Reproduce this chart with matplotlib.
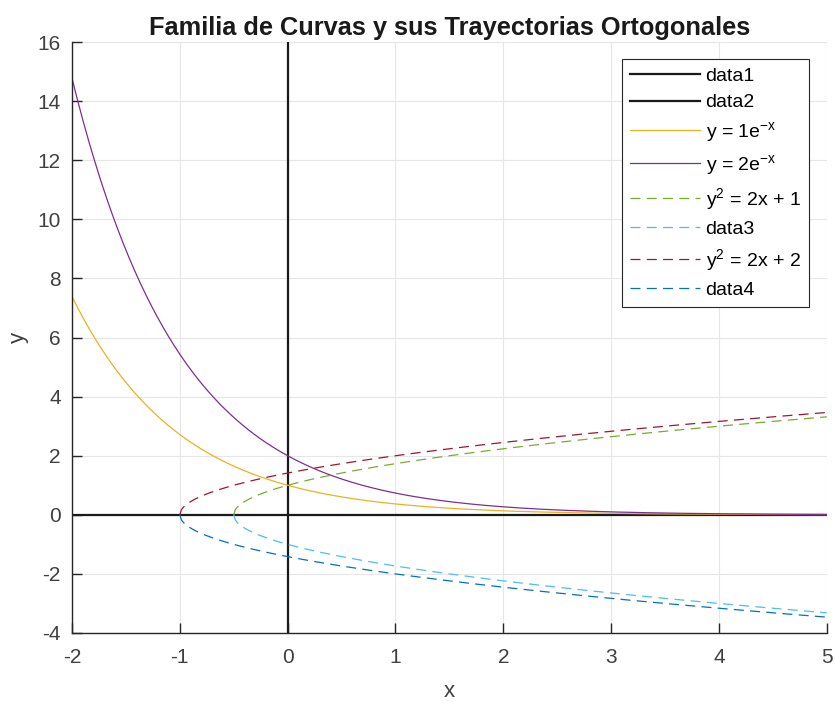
import numpy as np
import matplotlib
matplotlib.use("Agg")
import matplotlib.pyplot as plt

plt.rcParams['font.family'] = ['Liberation Sans', 'DejaVu Sans']
plt.rcParams['axes.unicode_minus'] = False
plt.rcParams['mathtext.default'] = 'regular'

# Data: family constants and domain
x_range = [-2, 5]
y_range = [-4, 16]
exp_consts = [1, 2]          # y = C e^{-x}
parab_consts = [1, 2]        # y^2 = 2x + K
exp_colors = ['#EDB120', '#7E2F8E']
parab_upper_colors = ['#77AC30', '#A2142F']
parab_lower_colors = ['#4DBEEE', '#0072BD']
xticks = [-2, -1, 0, 1, 2, 3, 4, 5]
yticks = [-4, -2, 0, 2, 4, 6, 8, 10, 12, 14, 16]

fig = plt.figure(figsize=(8.35, 7.02), dpi=100)
ax = fig.add_axes([0.0862, 0.0983, 0.9040, 0.8417])

axc = '#262626'
ax.plot(x_range, [0, 0], color='#1a1a1a', lw=1.6, label='data1')
ax.plot([0, 0], y_range, color='#1a1a1a', lw=1.6, label='data2')

x = np.linspace(x_range[0], x_range[1], 400)
for C, c in zip(exp_consts, exp_colors):
    ax.plot(x, C * np.exp(-x), color=c, lw=0.9, label=f'y = {C}e$^{{-x}}$')

dash = (0, (8, 5))
for K, cu, cl in zip(parab_consts, parab_upper_colors, parab_lower_colors):
    xp = np.linspace(-K / 2, x_range[1], 400)
    yp = np.sqrt(np.clip(2 * xp + K, 0, None))
    ax.plot(xp, yp, color=cu, lw=0.9, ls=dash, label=f'y$^{{2}}$ = 2x + {K}')
    ax.plot(xp, -yp, color=cl, lw=0.9, ls=dash, label=f'data{K + 2}')

ax.set_xlim(*x_range)
ax.set_ylim(*y_range)
ax.set_xticks(xticks)
ax.set_yticks(yticks)
ax.grid(True, color='#e6e6e6', lw=0.8)
ax.set_axisbelow(True)
for s in ['top', 'right']:
    ax.spines[s].set_visible(False)
for s in ['bottom', 'left']:
    ax.spines[s].set_color(axc)
    ax.spines[s].set_linewidth(1.0)
ax.tick_params(direction='in', length=7, width=1.0, colors=axc, labelsize=15)
ax.tick_params(axis='x', pad=11)
ax.tick_params(axis='y', pad=8)
for lab in ax.get_xticklabels() + ax.get_yticklabels():
    lab.set_color('#404040')

ax.set_xlabel('x', fontsize=16, color='#404040', labelpad=10)
ax.set_ylabel('y', fontsize=16, color='#404040', labelpad=6)
ax.set_title('Familia de Curvas y sus Trayectorias Ortogonales', fontsize=18.3,
             fontweight='bold', color='#1a1a1a', pad=5)

leg = ax.legend(loc='upper right', bbox_to_anchor=(0.976, 0.971), borderaxespad=0,
                fontsize=14, frameon=True, fancybox=False, edgecolor='#262626',
                framealpha=1, handlelength=3.6, labelspacing=0.45, borderpad=0.42,
                handletextpad=0.3)
leg.get_frame().set_linewidth(0.8)

fig.savefig('out.png', dpi=100)
